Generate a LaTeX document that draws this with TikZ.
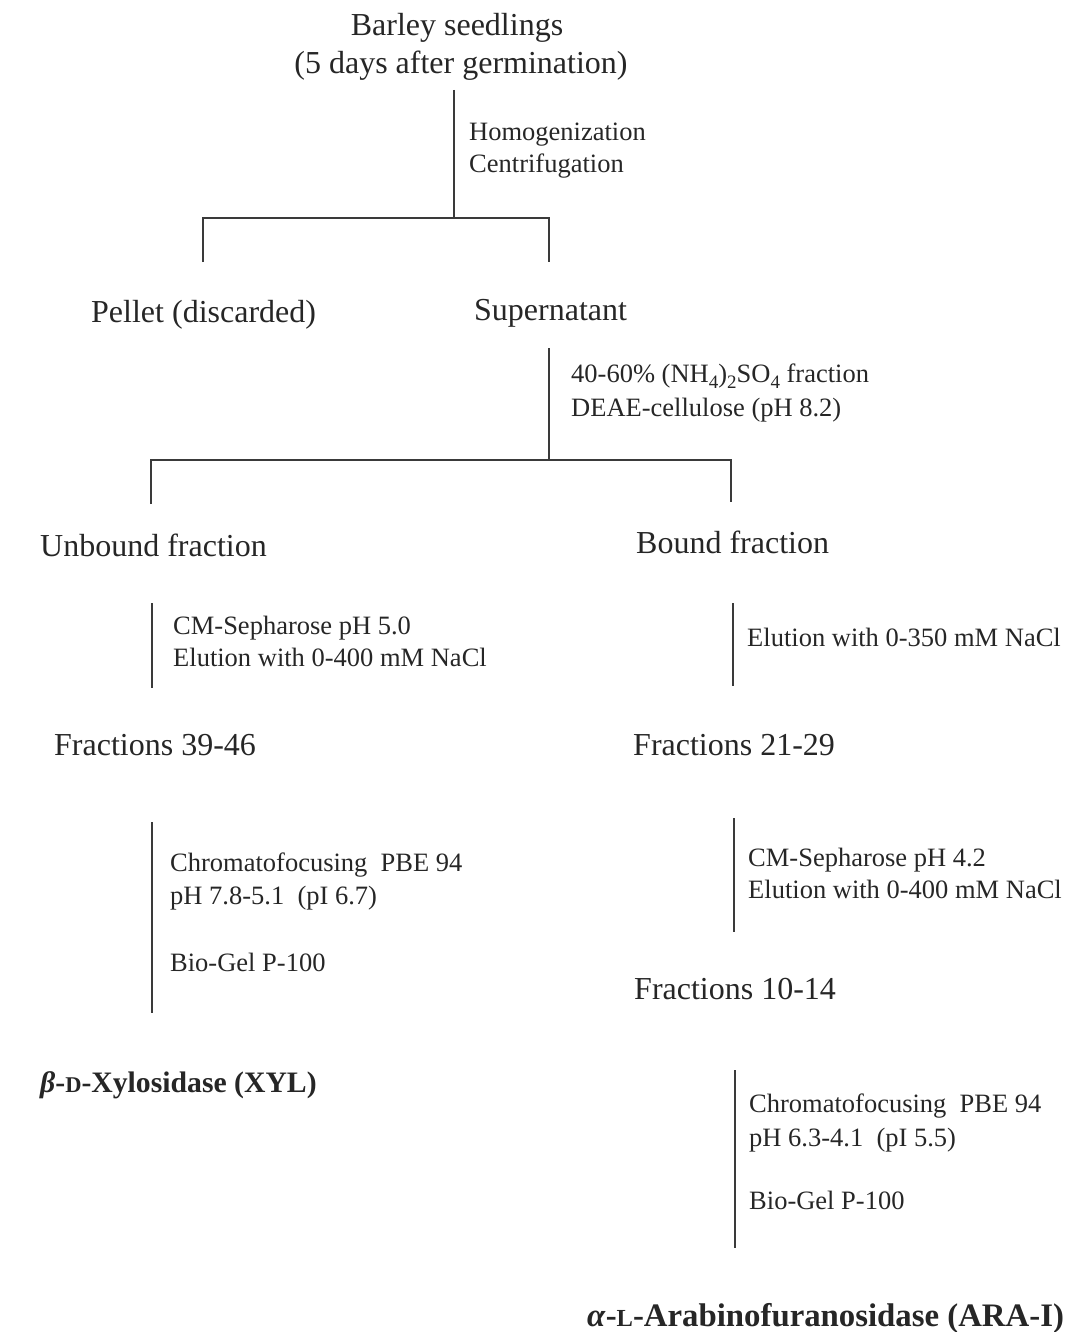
\documentclass[tikz,border=0pt]{standalone}
\usepackage{fontspec}
\setmainfont{Liberation Serif}
\definecolor{tc}{HTML}{262626}
\definecolor{lc}{HTML}{3A3A3A}
\newcommand{\lowsub}[1]{\raisebox{-0.5ex}{\fontsize{19}{19}\selectfont #1}}
\begin{document}
\begin{tikzpicture}[x=1pt,y=-1pt,
  big/.style={font=\fontsize{32}{38}\selectfont, text=tc, inner sep=0, anchor=base},
  bigw/.style={font=\fontsize{32}{38}\selectfont, text=tc, inner sep=0, anchor=base west},
  lbl/.style={font=\fontsize{26.5}{32}\selectfont, text=tc, inner sep=0, anchor=base west},
  prod/.style={font=\bfseries, text=tc, inner sep=0, anchor=base west},
  conn/.style={draw=lc, line width=1.8pt}]
\useasboundingbox (0,0) rectangle (1070,1332);
% top
\node[big] (barley) at (457,36) {Barley seedlings};
\node[big] (barleyb) at (461,74) {(5 days after germination)};
\coordinate (t1) at (454,90);
\coordinate (t2) at (454,218);
\draw[conn] (t1) -- (t2);
\node[lbl] (homog) at (469,141) {Homogenization};
\node[lbl] (centr) at (469,173) {Centrifugation};
\coordinate (b1l) at (203,218);
\coordinate (b1r) at (549,218);
\coordinate (b1ld) at (203,262);
\coordinate (b1rd) at (549,262);
\draw[conn] (b1ld) -- (b1l) -- (b1r) -- (b1rd);
\node[bigw] (pellet) at (91,322) {Pellet (discarded)};
\node[bigw] (super) at (474,320) {Supernatant};
% second split
\coordinate (s1) at (549,348);
\coordinate (s2) at (549,460);
\draw[conn] (s1) -- (s2);
\node[lbl] (amm) at (571,382) {40-60\% (NH\lowsub{4})\lowsub{2}SO\lowsub{4} fraction};
\node[lbl] (deae) at (571,416) {DEAE-cellulose (pH 8.2)};
\coordinate (b2l) at (151,460);
\coordinate (b2r) at (731,460);
\coordinate (b2ld) at (151,504);
\coordinate (b2rd) at (731,502);
\draw[conn] (b2ld) -- (b2l) -- (b2r) -- (b2rd);
\node[bigw] (unbound) at (40,556) {Unbound fraction};
\node[bigw] (bound) at (636,553) {Bound fraction};
% left branch
\coordinate (l1a) at (152,603);
\coordinate (l1b) at (152,688);
\draw[conn] (l1a) -- (l1b);
\node[lbl] (cm5) at (173,634) {CM-Sepharose pH 5.0};
\node[lbl] (el400a) at (173,666) {Elution with 0-400 mM NaCl};
\node[bigw] (f3946) at (54,755) {Fractions 39-46};
\coordinate (l2a) at (152,822);
\coordinate (l2b) at (152,1013);
\draw[conn] (l2a) -- (l2b);
\node[lbl] (chromL) at (170,871) {Chromatofocusing\ \ PBE 94};
\node[lbl] (phL) at (170,904) {pH 7.8-5.1\ \ (pI 6.7)};
\node[lbl] (bioL) at (170,971) {Bio-Gel P-100};
\node[prod, font=\fontsize{29.7}{36}\selectfont\bfseries] (xyl) at (40,1092) {\textit{β}-{\fontsize{22.5}{28}\selectfont D}-Xylosidase (XYL)};
% right branch
\coordinate (r1a) at (733,603);
\coordinate (r1b) at (733,686);
\draw[conn] (r1a) -- (r1b);
\node[lbl] (el350) at (747,646) {Elution with 0-350 mM NaCl};
\node[bigw] (f2129) at (633,755) {Fractions 21-29};
\coordinate (r2a) at (734,818);
\coordinate (r2b) at (734,932);
\draw[conn] (r2a) -- (r2b);
\node[lbl] (cm42) at (748,866) {CM-Sepharose pH 4.2};
\node[lbl] (el400b) at (748,898) {Elution with 0-400 mM NaCl};
\node[bigw] (f1014) at (634,999) {Fractions 10-14};
\coordinate (r3a) at (735,1070);
\coordinate (r3b) at (735,1248);
\draw[conn] (r3a) -- (r3b);
\node[lbl] (chromR) at (749,1112) {Chromatofocusing\ \ PBE 94};
\node[lbl] (phR) at (749,1146) {pH 6.3-4.1\ \ (pI 5.5)};
\node[lbl] (bioR) at (749,1209) {Bio-Gel P-100};
\node[prod, font=\fontsize{32.8}{38}\selectfont\bfseries] (ara) at (587,1326) {\textit{α}-{\fontsize{24.5}{28}\selectfont L}-Arabinofuranosidase (ARA-I)};
\end{tikzpicture}
\end{document}
